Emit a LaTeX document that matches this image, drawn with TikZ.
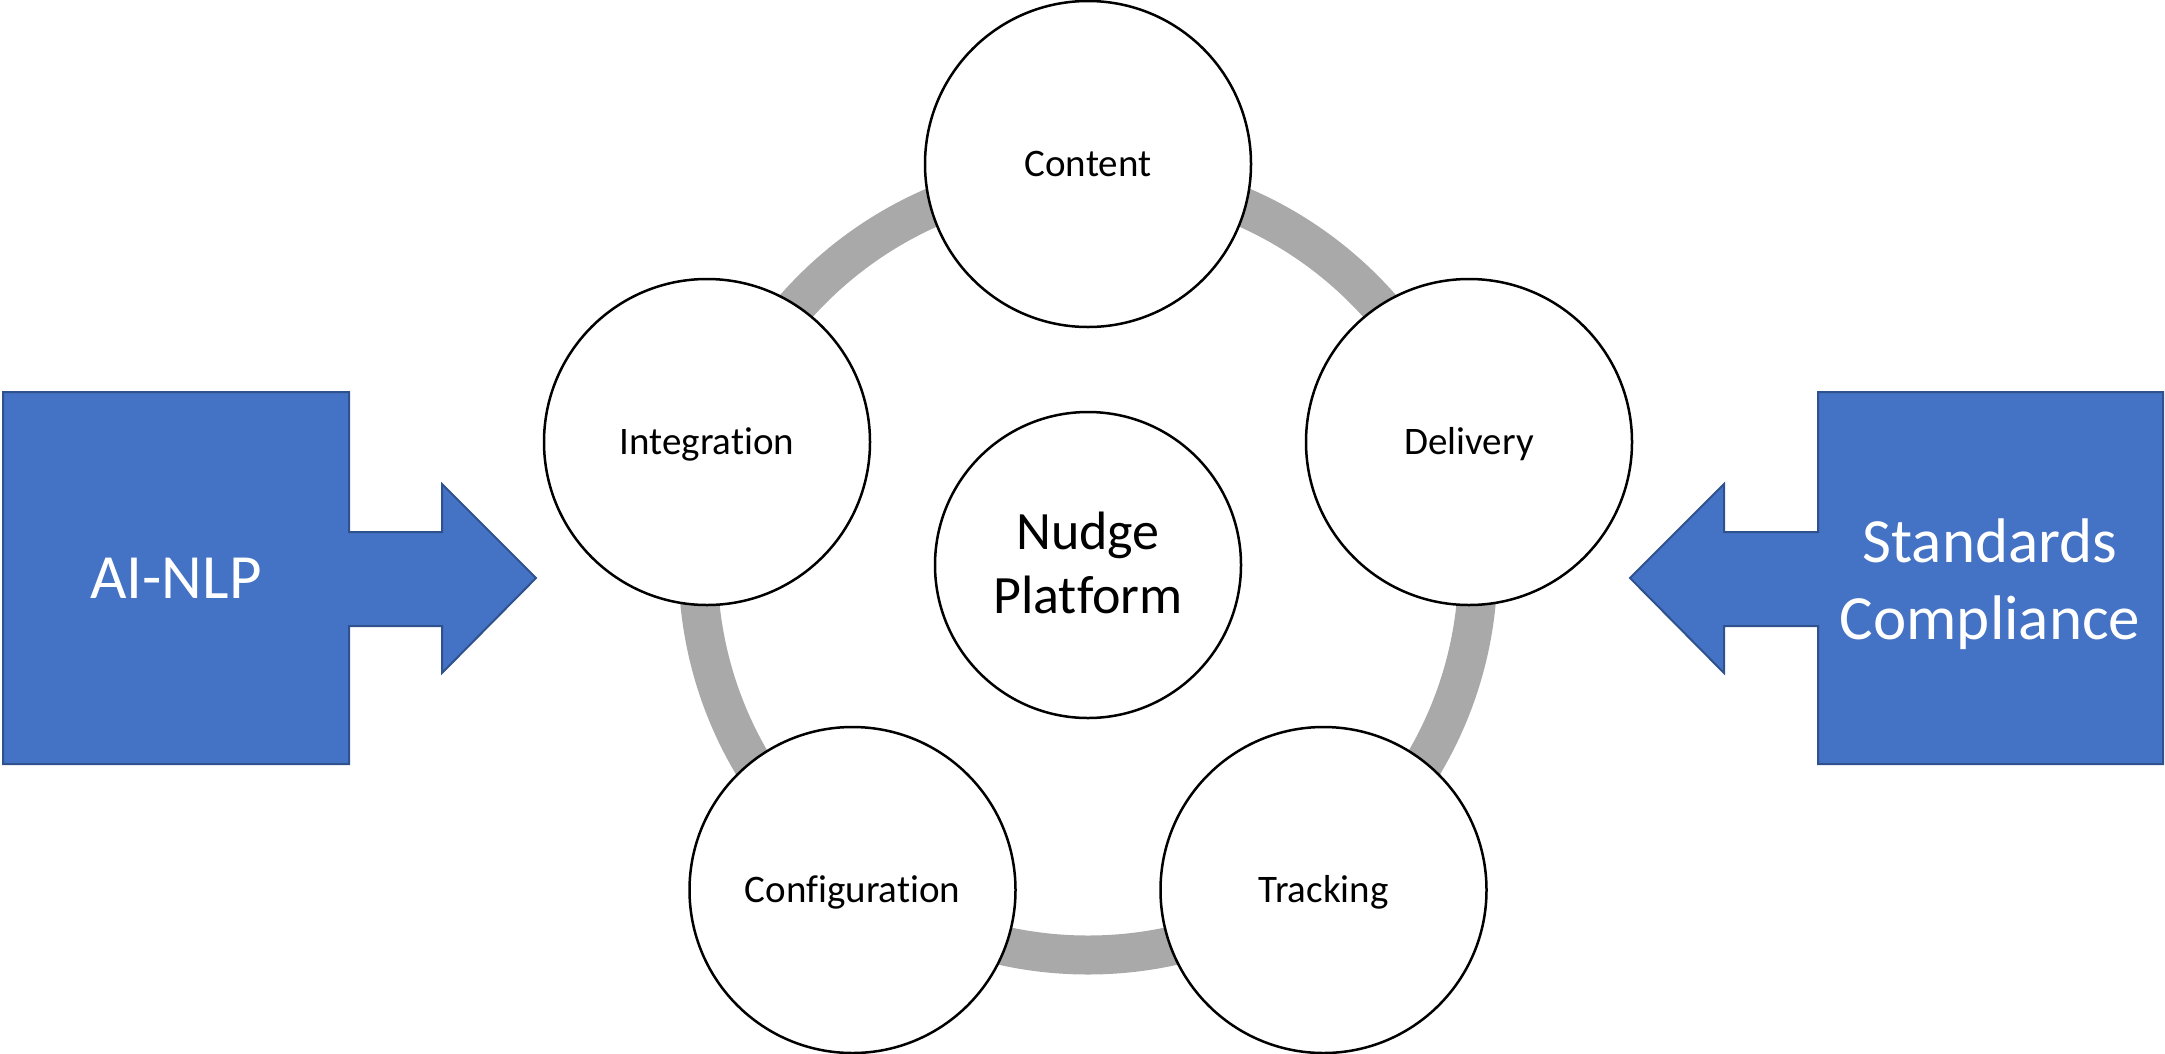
\documentclass[tikz,border=0pt]{standalone}
\usepackage{fontspec}
\setmainfont{Carlito}[Ligatures={NoCommon}]
\definecolor{ringgray}{HTML}{A9A9A9}
\definecolor{boxblue}{HTML}{4472C4}
\definecolor{boxedge}{HTML}{2F528F}
\begin{document}
\begin{tikzpicture}[x=1pt,y=-1pt,
  ring/.style={line width=39pt, draw=ringgray},
  stage/.style={circle, draw=black, line width=2.5pt, fill=white, minimum size=326pt, inner sep=0pt,
    font=\fontsize{39}{47}\selectfont, text height=24.6pt, text depth=0pt},
  hub/.style={circle, draw=black, line width=2.5pt, fill=white, minimum size=306pt, inner sep=0pt},
  hubtext/.style={font=\fontsize{54}{64}\selectfont, align=center, inner sep=0pt},
  bluearrow/.style={fill=boxblue, draw=boxedge, line width=2pt, line join=miter},
  bluetext/.style={text=white, font=\fontsize{63}{77}\selectfont, align=center, inner sep=0pt}
]
\useasboundingbox (0,0) rectangle (2165,1053);
% ring
\draw[ring] (1088,565) circle (390pt);
% hub
\node[hub] (nudge) at (1088,565) {};
\node[hubtext] (nudgetext) at (1088,563) {Nudge\\Platform};
% stages
\node[stage] (content) at (1088,164) {Content};
\node[stage] (integration) at (707,442) {Integration};
\node[stage] (delivery) at (1469,442) {Delivery};
\node[stage] (configuration) at (852.5,890) {Configuration};
\node[stage] (tracking) at (1323.5,890) {Tracking};
% left arrow box
\draw[bluearrow] (3,392) -- (349,392) -- (349,532) -- (442,532) -- (442,484) -- (536,578)
  -- (442,673) -- (442,626) -- (349,626) -- (349,764) -- (3,764) -- cycle;
\node[bluetext, text height=40pt, text depth=0pt] (ainlp) at (176,578) {AI-NLP};
% right arrow box
\draw[bluearrow] (2163,392) -- (1818,392) -- (1818,532) -- (1724,532) -- (1724,484) -- (1630,578)
  -- (1724,673) -- (1724,626) -- (1818,626) -- (1818,764) -- (2163,764) -- cycle;
\node[bluetext] (standards) at (1990,584) {Standards\\Compliance};
\end{tikzpicture}
\end{document}
